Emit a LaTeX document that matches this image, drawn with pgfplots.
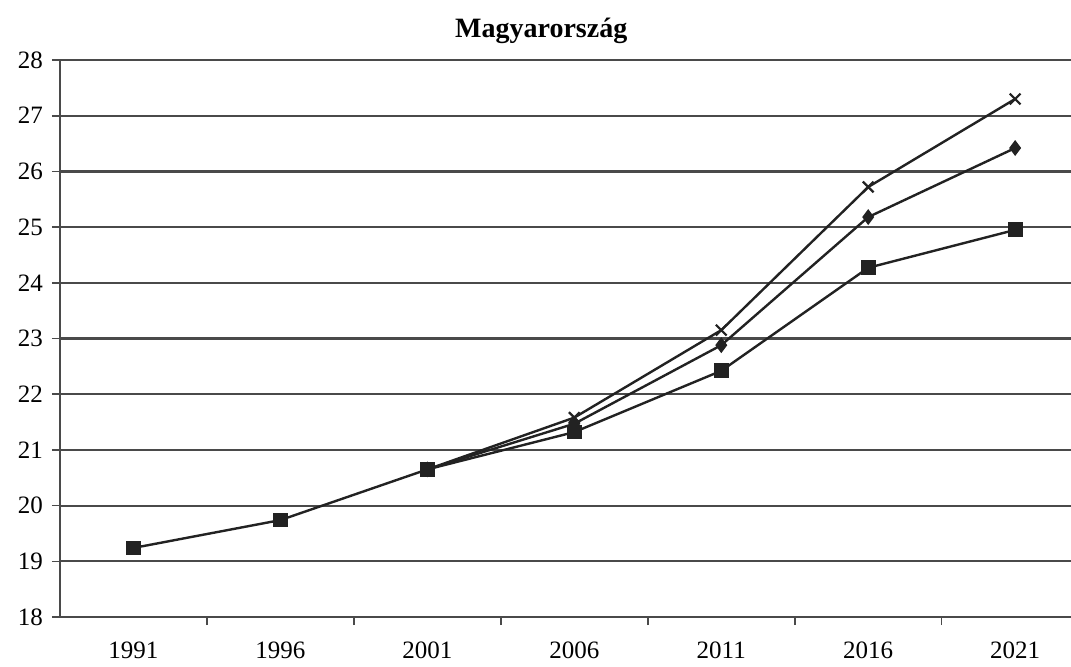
\documentclass[border=0pt]{standalone}
\usepackage{fontspec}
\setmainfont{Liberation Serif}
\usepackage{pgfplots}
\pgfplotsset{compat=1.18}
\definecolor{gridc}{HTML}{4A4A4A}
\definecolor{linec}{HTML}{222222}
\begin{document}
\begin{tikzpicture}
\begin{axis}[
  name=ax, at={(0,0)}, anchor=south west,
  scale only axis, width=505.5pt, height=278.5pt,
  xmin=0.5, xmax=7.38, ymin=18, ymax=28,
  axis x line*=bottom, axis y line*=left,
  axis line style={line width=1.1pt, color=gridc},
  xtick={1,...,7},
  xticklabels={1991,1996,2001,2006,2011,2016,2021},
  minor xtick={1.5,2.5,3.5,4.5,5.5,6.5},
  major x tick style={draw=none},
  minor x tick style={line width=0.8pt, color=gridc},
  minor tick length=4pt,
  ytick={18,...,28},
  y tick style={line width=0.8pt, color=gridc},
  major tick length=4pt,
  tick align=outside,
  ymajorgrids,
  grid style={line width=1.1pt, color=gridc},
  tick label style={font=\fontsize{12.5}{14}\selectfont},
  xticklabel style={yshift=-5pt},
  yticklabel style={xshift=-1pt},
  /pgf/number format/assume math mode=true,
  clip=false,
]
\addplot[linec, line width=1.2pt, mark=square*, mark size=3.1pt, mark options={fill=linec, draw=linec}]
  coordinates {(1,19.24) (2,19.74) (3,20.65) (4,21.32) (5,22.42) (6,24.27) (7,24.95)};
\addplot[linec, line width=1.2pt, mark=diamond*, mark size=3pt, mark options={fill=linec, draw=linec}]
  coordinates {(3,20.65) (4,21.47) (5,22.88) (6,25.18) (7,26.42)};
\addplot[linec, line width=1.2pt, mark=x, mark size=3.8pt, mark options={draw=linec, line width=1.1pt}]
  coordinates {(3,20.65) (4,21.58) (5,23.15) (6,25.72) (7,27.3)};
\node[font=\fontsize{14}{16}\selectfont\bfseries, anchor=base] at (rel axis cs:0.476,1) [yshift=11.5pt] {Magyarország};
\end{axis}
\pgfresetboundingbox
\path (-30pt,-24.5pt) rectangle (505.5pt,308.5pt);
\end{tikzpicture}
\end{document}
